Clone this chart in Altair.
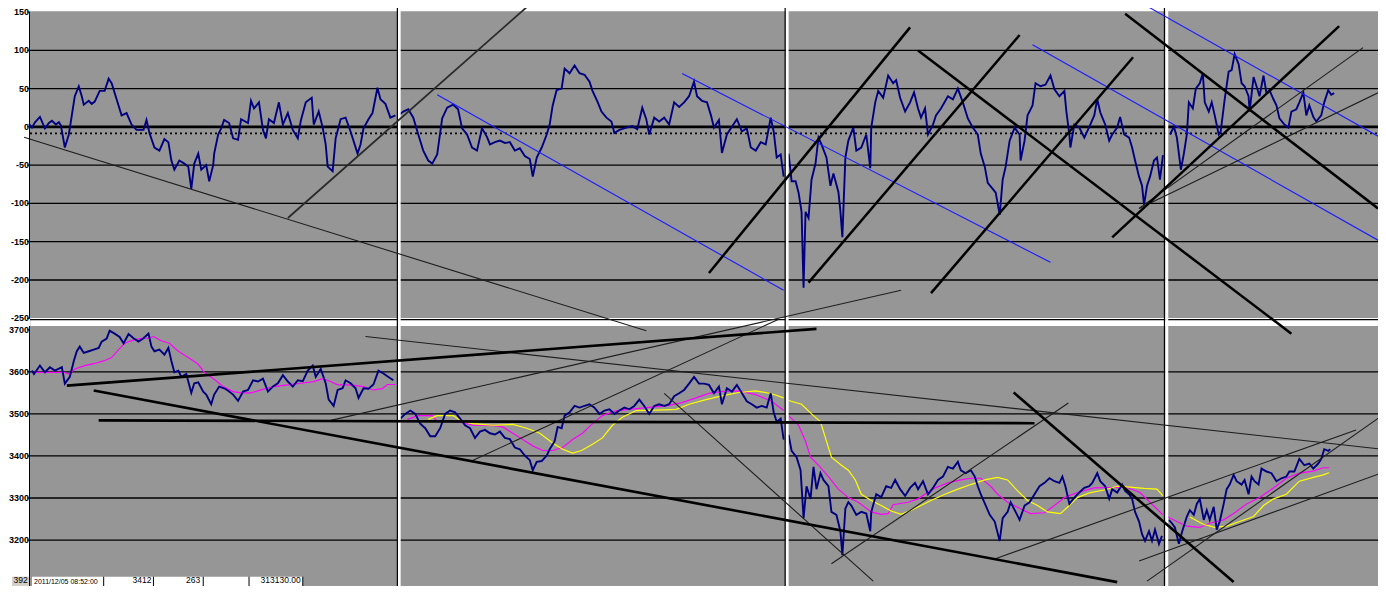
import altair as alt
import pandas as pd

# ---------------- upper panel (oscillator) ----------------
top_c1_t = [27,30,33,38,43,47,50,54,57,59,63,67,70,73,77,80,82,87,90,93,98,103,107,110,115,120,125,130,135,142,145,148,153,158,163,167,170,173,178,183,187,190,193,197,200,205,208,212,213,217,220,223,228,232,237,240,247,250,253,258,262,265,268,273,278,282,287,292,297,300,305,311,313,318,322,325,327,332,335,340,345,350,357,360,363,368,372,377,380,385,390,395]
top_c1_v = [4,-1,6,13,-2,5,8,3,6,2,-27,-10,15,40,53,40,29,34,30,33,47,47,63,57,36,15,18,3,-4,-4,9,-8,-27,-31,-16,-20,-44,-56,-44,-48,-52,-81,-48,-35,-56,-50,-71,-50,-35,-10,-2,9,5,-15,-17,10,5,34,24,32,-4,-15,10,5,32,3,18,-4,-15,8,32,38,3,20,-1,-23,-52,-58,-15,10,12,-6,-35,-23,-2,10,18,51,36,30,12,15]
top_c2_t = [398,403,408,413,418,423,428,432,437,442,447,453,458,462,467,472,477,482,487,490,495,500,505,510,515,520,525,530,533,537,542,547,550,553,557,562,565,570,575,580,585,590,593,598,602,607,612,615,620,627,633,638,643,647,650,655,660,665,670,675,680,685,690,695,698,703,708,712,715,720,723,728,733,738,743,748,752,757,762,767,772,775,778,782,785]
top_c2_v = [15,20,23,12,-10,-31,-44,-48,-36,11,25,29,23,-2,-10,-27,-31,-2,-13,-23,-20,-18,-21,-20,-31,-28,-38,-42,-65,-40,-27,-10,3,28,48,50,76,70,80,70,68,59,47,33,20,12,7,-8,-4,-1,1,-3,25,10,-10,12,7,12,3,32,26,32,40,59,40,34,32,15,-1,9,-34,-10,0,10,-6,-2,-27,-31,-20,-23,12,-6,-40,-36,-65]
top_c3_t = [790,793,797,800,803,805,807,810,813,817,820,823,828,832,835,840,842,844,847,850,855,858,863,868,872,873,877,880,885,890,895,898,902,907,912,916,920,923,927,930,935,938,943,950,955,960,965,970,975,980,983,987,990,995,998,1002,1005,1008,1012,1017,1022,1023,1027,1030,1035,1038,1043,1048,1053,1057,1062,1067,1069,1072,1073,1077,1082,1087,1092,1097,1100,1103,1108,1112,1115,1120,1123,1127,1132,1135,1138,1142,1145,1147,1150,1153,1157,1160,1163,1166]
top_c3_v = [-35,-71,-71,-86,-111,-210,-111,-119,-69,-48,-14,-23,-40,-77,-61,-85,-110,-144,-40,-18,-1,-31,-27,-10,-54,-1,32,47,38,67,57,61,38,20,32,45,24,12,24,-10,3,15,24,40,36,50,32,11,-1,-10,-35,-52,-73,-81,-86,-115,-69,-52,-18,-1,-10,-44,-18,15,28,57,53,55,67,49,40,47,20,-10,-27,3,-1,-14,0,15,36,19,3,-18,-10,-1,13,-10,-14,-27,-44,-65,-77,-102,-77,-65,-44,-40,-69,-37]
top_c4_t = [1173,1177,1180,1184,1187,1190,1192,1196,1199,1203,1206,1208,1212,1215,1218,1222,1224,1228,1232,1235,1238,1242,1245,1248,1252,1253,1257,1260,1263,1267,1270,1273,1277,1280,1283,1288,1292,1295,1300,1303,1307,1310,1313,1317,1320,1325,1328,1332,1335,1338]
top_c4_v = [-10,0,-14,-56,-35,-10,32,24,50,57,70,32,20,32,15,-10,-6,36,72,74,95,82,57,53,40,20,65,53,40,67,44,48,36,28,11,3,-1,20,23,32,45,15,28,13,7,15,32,48,42,44]

top_ticks = [150, 100, 50, 0, -50, -100, -150, -200, -250]
top_grid = [100, 50, -50, -100, -150, -200]
top_zero = [0]
top_dotted = [-8.5]

# trend lines, upper panel: (t1, v1, t2, v2)
top_thin = [(22, -13.5, 647, -266.3), (1142, -106.5, 1367, 103.5), (1142, -106.5, 1382, 44.4)]
top_mid = [(287, -119.1, 528, 157.6)]
top_blue = [(437, 41.9, 785, -213.4), (683, 69.6, 1053, -176.9),
            (1035, 107.3, 1382, -148.1), (1150, 157.6, 1382, -12.2)]
top_thick = [(710, -190.8, 912, 129.9), (810, -203.4, 1022, 119.9), (933, -217.2, 1136, 90.9),
             (1115, -144.3, 1343, 131.6), (920, 99.7, 1295, -270.1), (1128, 147.6, 1382, -106.5)]

# ---------------- lower panel (price) ----------------
bot_c1_t = [30,32,38,43,48,53,60,63,68,72,75,78,82,87,92,97,100,105,108,113,118,122,127,132,137,142,147,150,153,158,163,167,170,173,177,180,185,190,193,197,202,205,210,213,218,223,227,232,237,242,247,252,257,262,267,272,277,282,287,292,297,302,307,312,315,320,325,328,333,337,342,345,350,355,358,363,368,373,378,383,388,393]
bot_c1_v = [3603,3595,3615,3599,3611,3603,3611,3572,3588,3626,3649,3660,3645,3649,3653,3657,3672,3679,3698,3691,3683,3668,3690,3680,3672,3680,3691,3660,3649,3653,3641,3657,3626,3599,3603,3588,3595,3550,3573,3575,3553,3546,3523,3546,3565,3561,3555,3546,3531,3553,3557,3580,3577,3584,3553,3565,3573,3592,3577,3565,3580,3578,3603,3615,3588,3607,3573,3534,3519,3557,3561,3580,3573,3561,3538,3561,3560,3570,3603,3596,3588,3580]
bot_c2_t = [400,405,410,415,420,425,430,435,440,445,450,455,460,465,470,475,480,485,490,495,500,505,510,515,520,525,530,533,537,542,547,550,555,558,562,565,570,575,580,585,590,595,600,605,610,615,620,625,630,635,640,645,650,655,660,665,670,675,680,685,690,695,700,705,710,715,720,723,728,733,738,743,748,753,758,763,768,772,775,778,782,785]
bot_c2_v = [3489,3500,3508,3500,3477,3466,3447,3447,3466,3500,3508,3504,3489,3473,3466,3443,3458,3462,3454,3451,3458,3443,3440,3420,3416,3401,3390,3366,3386,3388,3401,3416,3435,3469,3466,3496,3504,3519,3515,3519,3523,3515,3500,3508,3511,3500,3508,3515,3511,3519,3534,3519,3500,3519,3523,3519,3523,3542,3549,3557,3572,3588,3572,3572,3569,3549,3565,3523,3561,3553,3569,3550,3530,3523,3515,3519,3515,3549,3504,3481,3489,3439]
bot_c3_t = [790,793,798,802,805,808,812,815,818,822,825,830,833,838,842,844,847,850,853,858,863,868,872,873,878,883,888,893,897,902,907,912,917,920,925,930,935,940,945,950,955,960,963,968,973,977,980,983,988,992,997,1002,1005,1010,1013,1018,1022,1027,1032,1037,1042,1047,1052,1057,1062,1065,1068,1072,1077,1082,1087,1092,1095,1100,1103,1108,1112,1115,1120,1125,1128,1132,1135,1138,1142,1145,1148,1152,1155,1158,1162,1165]
bot_c3_v = [3450,3412,3397,3366,3252,3328,3298,3374,3321,3359,3343,3328,3267,3260,3221,3164,3275,3290,3282,3260,3267,3263,3221,3267,3309,3302,3328,3324,3343,3321,3305,3324,3336,3321,3340,3309,3324,3343,3351,3374,3370,3386,3366,3359,3366,3351,3328,3309,3282,3260,3244,3198,3252,3267,3290,3267,3248,3282,3290,3309,3328,3336,3347,3340,3336,3351,3328,3286,3301,3313,3324,3328,3336,3359,3340,3328,3298,3321,3313,3332,3317,3309,3298,3267,3244,3214,3198,3221,3198,3225,3191,3210]
bot_c4_t = [1172,1175,1178,1182,1185,1190,1193,1197,1200,1203,1207,1210,1213,1217,1220,1223,1227,1230,1233,1237,1240,1245,1248,1252,1255,1258,1262,1265,1270,1275,1280,1285,1290,1293,1298,1303,1308,1313,1317,1322,1325,1328,1332,1334]
bot_c4_v = [3248,3240,3230,3191,3218,3256,3271,3260,3286,3298,3248,3271,3248,3279,3225,3244,3286,3321,3332,3355,3340,3332,3343,3309,3351,3340,3332,3370,3363,3359,3340,3347,3351,3363,3363,3393,3378,3382,3370,3382,3393,3416,3412,3416]

# moving averages (magenta = fast, yellow = slow)
mag_c1_t = [30,62,67,73,83,93,102,110,117,123,132,140,147,152,160,168,177,187,197,203,212,222,232,240,250,260,273,287,300,313,322,330,337,350,363,373,382,387,395]
mag_c1_v = [3599,3599,3595,3607,3615,3620,3626,3634,3653,3668,3676,3680,3680,3684,3674,3668,3649,3634,3618,3599,3584,3565,3553,3550,3550,3557,3565,3569,3573,3577,3584,3577,3569,3569,3565,3557,3560,3570,3570]
mag_c2_t = [407,418,432,437,453,463,473,490,503,513,523,533,543,553,563,573,583,593,603,617,630,647,667,683,697,710,723,740,757,773,785]
mag_c2_v = [3487,3496,3496,3482,3482,3479,3473,3473,3469,3454,3439,3424,3413,3413,3420,3439,3454,3477,3496,3508,3511,3515,3519,3527,3538,3549,3553,3555,3546,3530,3508]
mag_c3_t = [790,800,807,812,820,830,840,850,860,873,883,890,895,910,920,927,937,950,963,973,983,993,1000,1010,1020,1033,1047,1057,1067,1080,1097,1113,1130,1143,1153,1166]
mag_c3_v = [3496,3473,3435,3397,3378,3351,3321,3301,3290,3267,3261,3263,3284,3290,3298,3309,3324,3336,3343,3347,3347,3328,3309,3290,3278,3263,3265,3282,3301,3313,3324,3325,3325,3313,3290,3260]
mag_c4_t = [1170,1180,1190,1203,1213,1227,1237,1250,1263,1277,1290,1303,1317,1327,1333]
mag_c4_v = [3256,3244,3233,3230,3240,3248,3263,3286,3301,3324,3347,3359,3364,3372,3372]
yel_c2_t = [428,437,453,462,473,493,513,527,540,553,563,573,582,593,603,613,623,637,657,677,690,707,723,740,757,773,785]
yel_c2_v = [3487,3496,3496,3482,3477,3473,3475,3466,3454,3431,3416,3407,3413,3428,3443,3473,3492,3508,3509,3511,3523,3534,3543,3551,3555,3548,3538]
yel_c3_t = [790,803,813,822,827,833,843,850,857,863,873,883,893,903,913,923,933,947,960,973,987,1000,1010,1020,1030,1040,1050,1063,1070,1080,1093,1107,1120,1133,1147,1160,1166]
yel_c3_v = [3532,3523,3500,3481,3443,3397,3378,3366,3343,3309,3294,3282,3269,3261,3271,3282,3294,3309,3321,3332,3343,3349,3343,3317,3294,3282,3267,3263,3278,3301,3313,3319,3328,3326,3323,3321,3305]
yel_c4_t = [1193,1207,1218,1230,1243,1257,1267,1277,1290,1303,1317,1327,1333]
yel_c4_v = [3255,3237,3230,3233,3244,3256,3282,3298,3309,3340,3349,3355,3360]

bot_ticks = [3700, 3600, 3500, 3400, 3300, 3200]
bot_grid = [3600, 3500, 3400, 3300, 3200]

bot_thin = [(365, 3684.0, 1382, 3417.2), (330, 3484.7, 903, 3793.9), (472, 3388.6, 780, 3725.2),
            (665, 3548.9, 875, 3102.3), (833, 3143.6, 1071, 3526.0), (997, 3155.0, 1360, 3461.9),
            (1142, 3150.4, 1382, 3356.5), (1150, 3102.3, 1382, 3489.3)]
bot_thick = [(65, 3567.2, 818, 3702.3), (92, 3555.7, 1120, 3100.0), (97, 3484.7, 1037, 3477.9),
             (1016, 3551.2, 1237, 3100.0)]

# spreadsheet row peeking in at the bottom
strip_texts = ["2011/12/05 08:52:00", "3412", "263", "313130.00"]
strip_t = [32, 150, 199, 300]
strip_align = ["left", "right", "right", "right"]
strip_size = [7, 8.5, 8.5, 8.5]
strip_cells = [102, 152, 202, 248, 302]
row_header = ["392"]

# panel breaks (four stitched screenshots)
breaks_black = [397, 786.5, 1167.5]
breaks_white = [398.8, 788.5, 1169.8]

T_MIN, T_MAX = 28, 1382
STRIP_TOP, STRIP_BASE = 3113, 3093

# ---------------- helpers ----------------
XS = alt.Scale(domain=[T_MIN, T_MAX], nice=False, zero=False)


def top_scale():
    return alt.Scale(domain=[-250, 150], range=[306.26, 0], nice=False, zero=False)


def bot_scale():
    return alt.Scale(domain=[3200, 3700], range=[528.06, 317.82], nice=False, zero=False)


def X(f):
    return alt.X(f + ":Q", scale=XS, axis=None)


def Y(f, sc):
    return alt.Y(f + ":Q", scale=sc(), axis=None)


def seg_df(rows):
    return pd.DataFrame(rows, columns=["t1", "v1", "t2", "v2"])


def segs(rows, sc, color, width, dash=None, opacity=1.0):
    kw = dict(color=color, strokeWidth=width, opacity=opacity)
    if dash:
        kw["strokeDash"] = dash
    return alt.Chart(seg_df(rows)).mark_rule(**kw).encode(
        x=X("t1"), x2=alt.X2("t2:Q"), y=Y("v1", sc), y2=alt.Y2("v2:Q"))


def rects(rows, sc, color):
    return alt.Chart(seg_df(rows)).mark_rect(color=color).encode(
        x=X("t1"), x2=alt.X2("t2:Q"), y=Y("v1", sc), y2=alt.Y2("v2:Q"))


def series(cols, sc, color, width):
    rows = []
    for i, (ts, vs) in enumerate(cols):
        for t, v in zip(ts, vs):
            rows.append({"t": t, "v": v, "seg": i})
    return alt.Chart(pd.DataFrame(rows)).mark_line(color=color, strokeWidth=width).encode(
        x=X("t"), y=Y("v", sc), detail="seg:N")


def labels(vals, sc):
    df = pd.DataFrame({"t": [27] * len(vals), "v": vals, "lab": [str(v) for v in vals]})
    return alt.Chart(df).mark_text(align="right", baseline="middle", fontSize=9, fontWeight="bold",
                                   font="Liberation Sans", color="black").encode(
        x=X("t"), y=Y("v", sc), text="lab:N")


GRAY = "#969696"
layers = []
# backgrounds
layers.append(rects([(T_MIN, -249.5, T_MAX, 151)], top_scale, GRAY))
layers.append(rects([(T_MIN, 3085, T_MAX, 3709)], bot_scale, GRAY))
# grid
layers.append(segs([(T_MIN, g, T_MAX, g) for g in top_grid], top_scale, "black", 1.3))
layers.append(segs([(T_MIN, g, T_MAX, g) for g in bot_grid], bot_scale, "black", 1.3))
layers.append(segs([(T_MIN, g, T_MAX, g) for g in top_zero], top_scale, "black", 2.6))
layers.append(segs([(T_MIN, g, T_MAX, g) for g in top_dotted], top_scale, "black", 1.6, dash=[2, 3]))
layers.append(segs([(T_MIN, -251.8, T_MAX, -251.8)], top_scale, "black", 1.3))
# moving averages
layers.append(series([(mag_c1_t, mag_c1_v), (mag_c2_t, mag_c2_v), (mag_c3_t, mag_c3_v), (mag_c4_t, mag_c4_v)],
                     bot_scale, "#ff00ff", 1.2))
layers.append(series([(yel_c2_t, yel_c2_v), (yel_c3_t, yel_c3_v), (yel_c4_t, yel_c4_v)],
                     bot_scale, "#ffff00", 1.2))
# price / oscillator
layers.append(series([(top_c1_t, top_c1_v), (top_c2_t, top_c2_v), (top_c3_t, top_c3_v), (top_c4_t, top_c4_v)],
                     top_scale, "#000080", 1.9))
layers.append(series([(bot_c1_t, bot_c1_v), (bot_c2_t, bot_c2_v), (bot_c3_t, bot_c3_v), (bot_c4_t, bot_c4_v)],
                     bot_scale, "#000080", 1.9))
# panel breaks
layers.append(segs([(b, 158, b, -600) for b in breaks_white], top_scale, "white", 3))
layers.append(segs([(b, 158, b, -600) for b in breaks_black], top_scale, "black", 1.2))
# trend lines
layers.append(segs(top_blue, top_scale, "#1a1aff", 1.1))
layers.append(segs(top_thin, top_scale, "#1e1e1e", 1.1))
layers.append(segs(top_mid, top_scale, "#2a2a2a", 1.8))
layers.append(segs(top_thick, top_scale, "black", 2.5))
layers.append(segs(bot_thin, bot_scale, "#1e1e1e", 1.1))
layers.append(segs(bot_thick, bot_scale, "black", 2.6))
# axis
layers.append(segs([(27.5, 150, 27.5, -250)], top_scale, "black", 1))
layers.append(segs([(27.5, 3709, 27.5, 3085)], bot_scale, "black", 1))
layers.append(segs([(25, v, 28, v) for v in top_ticks], top_scale, "black", 1))
layers.append(segs([(25, v, 28, v) for v in bot_ticks], bot_scale, "black", 1))
layers.append(labels(top_ticks, top_scale))
layers.append(labels(bot_ticks, bot_scale))
# bottom strip (spreadsheet row)
layers.append(rects([(30, 3085, 302, STRIP_TOP)], bot_scale, "white"))
layers.append(rects([(10, 3085, 27, STRIP_TOP)], bot_scale, "#d4d0c8"))
layers.append(segs([(c, STRIP_TOP, c, 3085) for c in strip_cells], bot_scale, "black", 1))
layers.append(alt.Chart(pd.DataFrame({"t": [18.5], "v": [STRIP_BASE], "lab": row_header})).mark_text(
    align="center", baseline="bottom", fontSize=8.5, font="Liberation Sans", color="black").encode(
    x=X("t"), y=Y("v", bot_scale), text="lab:N"))
strip_df = pd.DataFrame({"t": strip_t, "v": [STRIP_BASE] * 4, "lab": strip_texts, "al": strip_align,
                         "fs": strip_size})
for _, r in strip_df.iterrows():
    layers.append(alt.Chart(strip_df[strip_df.lab == r.lab]).mark_text(
        align=r.al, baseline="bottom", fontSize=float(r.fs), font="Liberation Sans", color="black").encode(
        x=X("t"), y=Y("v", bot_scale), text="lab:N"))

chart = alt.layer(*layers).resolve_scale(y="independent").properties(
    width=1348, height=574,
    padding={"left": 22, "top": 4, "right": 0, "bottom": 0},
    autosize=alt.AutoSizeParams(type="none"),
).configure_view(stroke=None).configure(background="white")

chart.save("out.html", embed_options={"renderer": "svg", "actions": False})
